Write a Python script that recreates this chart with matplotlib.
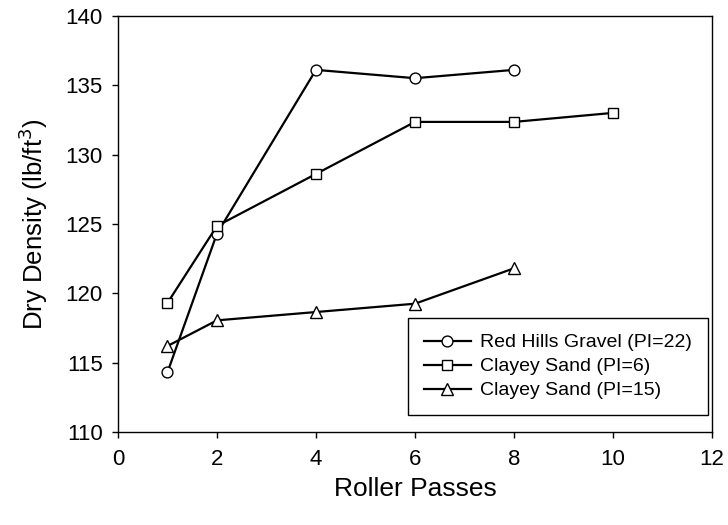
import matplotlib
matplotlib.use("Agg")
import matplotlib.pyplot as plt

plt.rcParams['font.family'] = ['Liberation Sans', 'DejaVu Sans']

# data
x_red = [1, 2, 4, 6, 8]
y_red = [114.3, 124.3, 136.1, 135.5, 136.1]
x_cs6 = [1, 2, 4, 6, 8, 10]
y_cs6 = [119.3, 124.85, 128.6, 132.35, 132.35, 133.0]
x_cs15 = [1, 2, 4, 6, 8]
y_cs15 = [116.2, 118.05, 118.65, 119.25, 121.8]
labels = ['Red Hills Gravel (PI=22)', 'Clayey Sand (PI=6)', 'Clayey Sand (PI=15)']

fig = plt.figure(figsize=(7.28, 5.25), dpi=100)
ax = fig.add_axes([0.162, 0.177, 0.816, 0.793])

style = dict(color='black', lw=1.6, mfc='white', mec='black', mew=1.0)
ax.plot(x_red, y_red, marker='o', ms=7.8, label=labels[0], **style)
ax.plot(x_cs6, y_cs6, marker='s', ms=7.3, label=labels[1], **style)
ax.plot(x_cs15, y_cs15, marker='^', ms=8, label=labels[2], **style)

ax.set_xlim(0, 12)
ax.set_ylim(110, 140)
ax.set_xticks(range(0, 13, 2))
ax.set_yticks(range(110, 141, 5))
ax.tick_params(direction='out', length=4, width=1, labelsize=16, top=False, right=False)
ax.tick_params(axis='x', pad=8)
ax.tick_params(axis='y', pad=7)
for s in ax.spines.values():
    s.set_linewidth(1)

ax.set_xlabel('Roller Passes', fontsize=19, labelpad=5)
ax.set_ylabel('Dry Density (lb/ft$^3$)', fontsize=18.5, labelpad=11)

leg = ax.legend(loc='lower right', bbox_to_anchor=(0.993, 0.041), borderaxespad=0,
                fontsize=14, fancybox=False, framealpha=1, edgecolor='black',
                handlelength=2.4, borderpad=0.8, labelspacing=0.33, handletextpad=0.5)
leg.get_frame().set_linewidth(1)

fig.savefig('out.png', dpi=100)
